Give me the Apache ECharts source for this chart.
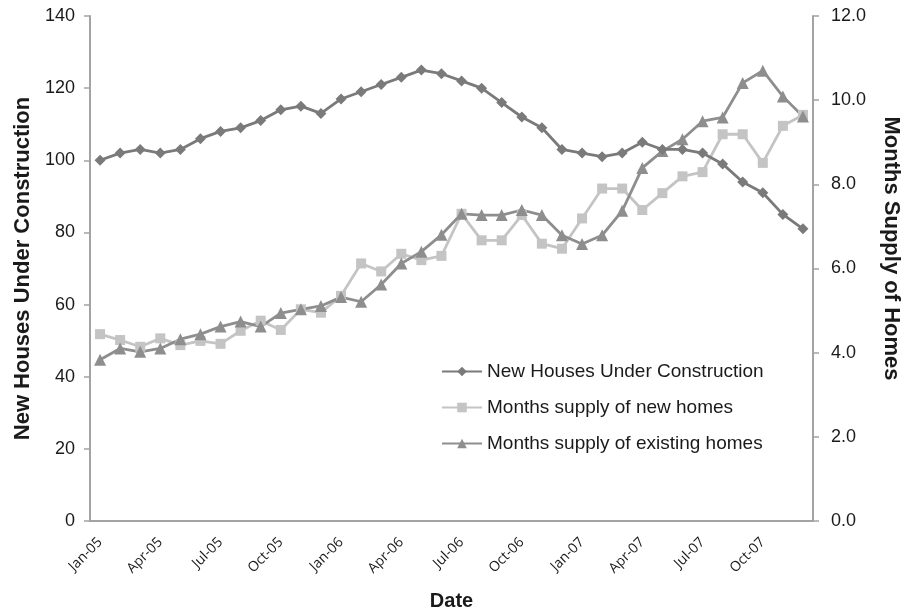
<!DOCTYPE html>
<html>
<head>
<meta charset="utf-8">
<script src="https://cdn.jsdelivr.net/npm/echarts@6/dist/echarts.min.js"></script>
<style>
html,body{margin:0;padding:0;background:#fff;}
#c{width:905px;height:615px;}
</style>
</head>
<body>
<div id="c"></div>
<script>
const categories = [
 'Jan-05','Feb-05','Mar-05','Apr-05','May-05','Jun-05','Jul-05','Aug-05','Sep-05','Oct-05','Nov-05','Dec-05',
 'Jan-06','Feb-06','Mar-06','Apr-06','May-06','Jun-06','Jul-06','Aug-06','Sep-06','Oct-06','Nov-06','Dec-06',
 'Jan-07','Feb-07','Mar-07','Apr-07','May-07','Jun-07','Jul-07','Aug-07','Sep-07','Oct-07','Nov-07','Dec-07'
];
const newHousesUnderConstruction = [
 100,102,103,102,103,106,108,109,111,114,115,113,
 117,119,121,123,125,124,122,120,116,112,109,103,
 102,101,102,105,103,103,102,99,94,91,85,81
];
const monthsSupplyNew = [
 4.44,4.30,4.14,4.34,4.18,4.28,4.21,4.52,4.76,4.54,5.03,4.95,
 5.35,6.12,5.93,6.35,6.20,6.30,7.30,6.67,6.67,7.27,6.59,6.47,
 7.19,7.90,7.90,7.39,7.79,8.19,8.29,9.19,9.19,8.51,9.39,9.65
];
const monthsSupplyExisting = [
 3.83,4.10,4.02,4.10,4.32,4.44,4.62,4.74,4.62,4.94,5.03,5.11,
 5.32,5.21,5.62,6.12,6.40,6.80,7.30,7.27,7.27,7.39,7.27,6.79,
 6.58,6.79,7.37,8.39,8.79,9.07,9.50,9.59,10.41,10.70,10.09,9.61
];
const seriesNames = ['New Houses Under Construction','Months supply of new homes','Months supply of existing homes'];

const FONT = '"Liberation Sans", Arial, sans-serif';
const axisGray = '#a3a3a3';
const textColor = '#1a1a1a';
const chart = echarts.init(document.getElementById('c'));
chart.setOption({
  animation: false,
  textStyle: {fontFamily: FONT},
  grid: {left: 90, right: 92, top: 16, bottom: 94, containLabel: false, outerBoundsMode: 'none'},
  legend: {
    orient: 'vertical', left: 436, top: 357, itemGap: 17,
    itemWidth: 40, itemHeight: 12,
    textStyle: {fontSize: 19, color: textColor, fontFamily: FONT},
    data: seriesNames
  },
  xAxis: {
    type: 'category', data: categories, boundaryGap: true,
    name: 'Date', nameLocation: 'middle', nameGap: 70,
    nameTextStyle: {fontSize: 20, fontWeight: 'bold', color: textColor},
    axisLine: {lineStyle: {color: axisGray, width: 2}},
    axisTick: {interval: 2, alignWithLabel: false, length: 6, lineStyle: {color: axisGray, width: 1.5}},
    axisLabel: {interval: 2, rotate: 45, fontSize: 14, color: textColor, margin: 19, fontFamily: '"Open Sans", sans-serif'},
    splitLine: {show: false}
  },
  yAxis: [
    {
      type: 'value', min: 0, max: 140, interval: 20,
      name: 'New Houses Under Construction', nameLocation: 'middle', nameGap: 53, nameRotate: 90,
      nameTextStyle: {fontSize: 22, fontWeight: 'bold', color: textColor},
      axisLine: {show: true, lineStyle: {color: axisGray, width: 2}},
      axisTick: {show: true, length: 6, lineStyle: {color: axisGray, width: 1.5}},
      axisLabel: {fontSize: 18, color: textColor, margin: 15},
      splitLine: {show: false}
    },
    {
      type: 'value', min: 0, max: 12, interval: 2, position: 'right',
      name: 'Months Supply of Homes', nameLocation: 'middle', nameGap: 67, nameRotate: -90,
      nameTextStyle: {fontSize: 22, fontWeight: 'bold', color: textColor, padding: [0, 40, 0, 0]},
      axisLine: {show: true, lineStyle: {color: axisGray, width: 2}},
      axisTick: {show: true, length: 6, lineStyle: {color: axisGray, width: 1.5}},
      axisLabel: {fontSize: 18, color: textColor, margin: 18, formatter: v => v.toFixed(1)},
      splitLine: {show: false}
    }
  ],
  series: [
    {
      name: seriesNames[0], type: 'line', yAxisIndex: 0, data: newHousesUnderConstruction,
      symbol: 'diamond', symbolSize: 11, showAllSymbol: true,
      lineStyle: {color: '#7a7a7a', width: 2.8}, itemStyle: {color: '#7a7a7a'}, z: 3
    },
    {
      name: seriesNames[1], type: 'line', yAxisIndex: 1, data: monthsSupplyNew,
      symbol: 'rect', symbolSize: 10, showAllSymbol: true,
      lineStyle: {color: '#c4c4c4', width: 2.8}, itemStyle: {color: '#c4c4c4'}, z: 2
    },
    {
      name: seriesNames[2], type: 'line', yAxisIndex: 1, data: monthsSupplyExisting,
      symbol: 'triangle', symbolSize: 12, showAllSymbol: true,
      lineStyle: {color: '#8e8e8e', width: 2.8}, itemStyle: {color: '#8e8e8e'}, z: 2
    }
  ]
});
</script>
</body>
</html>
